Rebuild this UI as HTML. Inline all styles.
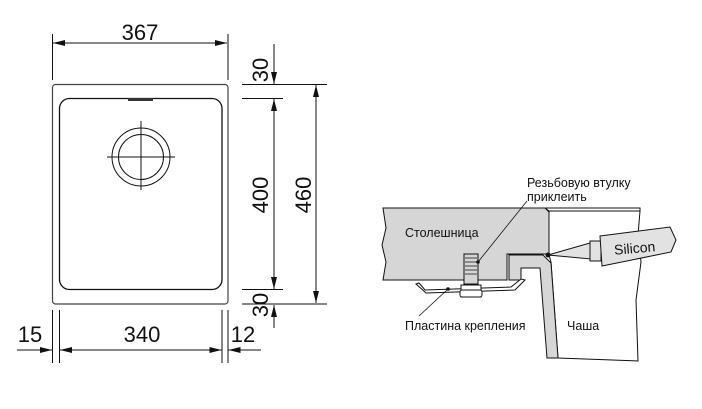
<!DOCTYPE html>
<html><head><meta charset="utf-8"><style>
html,body{margin:0;padding:0;background:#fff;}
svg{display:block;}
text{font-family:"Liberation Sans","DejaVu Sans",sans-serif;fill:#111;}
</style></head><body>
<svg width="702" height="409" viewBox="0 0 702 409" xmlns="http://www.w3.org/2000/svg">
<defs>
<marker id="a" viewBox="0 0 12 6" refX="12" refY="3" markerWidth="12" markerHeight="6" orient="auto" markerUnits="userSpaceOnUse"><path d="M0,0L12,3L0,6z" fill="#111"/></marker>
</defs>
<g stroke="#111" stroke-width="1" fill="none">
<rect x="52.5" y="84.5" width="175.5" height="219.5" rx="3" stroke="#444" stroke-width="1.2"/>
<rect x="59.5" y="98.5" width="162.5" height="191" rx="10" stroke-width="1.3"/>
<rect x="128" y="98" width="25" height="3" fill="#333" stroke="none"/>
<circle cx="141" cy="157" r="29"/>
<circle cx="141" cy="157" r="22.5"/>
<line x1="107" y1="157" x2="175" y2="157"/>
<line x1="141" y1="121" x2="141" y2="190"/>
<line x1="52.5" y1="34" x2="52.5" y2="80"/>
<line x1="228" y1="34" x2="228" y2="80"/>
<line x1="140" y1="43" x2="53" y2="43" marker-end="url(#a)"/>
<line x1="140" y1="43" x2="227" y2="43" marker-end="url(#a)"/>
<line x1="242" y1="84.5" x2="327" y2="84.5"/>
<line x1="242" y1="98.5" x2="283" y2="98.5"/>
<line x1="242" y1="289.5" x2="283" y2="289.5"/>
<line x1="242" y1="304" x2="327" y2="304"/>
<line x1="274" y1="44" x2="274" y2="84" marker-end="url(#a)"/>
<line x1="274" y1="194" x2="274" y2="99" marker-end="url(#a)"/>
<line x1="274" y1="194" x2="274" y2="289" marker-end="url(#a)"/>
<line x1="274" y1="328" x2="274" y2="305" marker-end="url(#a)"/>
<line x1="316" y1="194" x2="316" y2="85" marker-end="url(#a)"/>
<line x1="316" y1="194" x2="316" y2="303" marker-end="url(#a)"/>
<line x1="52.5" y1="310" x2="52.5" y2="363"/>
<line x1="59.5" y1="310" x2="59.5" y2="363"/>
<line x1="222" y1="310" x2="222" y2="363"/>
<line x1="228" y1="310" x2="228" y2="363"/>
<line x1="17" y1="350" x2="52" y2="350" marker-end="url(#a)"/>
<line x1="140" y1="350" x2="60" y2="350" marker-end="url(#a)"/>
<line x1="140" y1="350" x2="221.5" y2="350" marker-end="url(#a)"/>
<line x1="261" y1="350" x2="228.5" y2="350" marker-end="url(#a)"/>
</g>
<text x="140" y="40" font-size="22" text-anchor="middle">367</text>
<text x="30" y="342" font-size="22" text-anchor="middle">15</text>
<text x="142" y="342" font-size="22" text-anchor="middle">340</text>
<text x="243" y="342" font-size="22" text-anchor="middle">12</text>
<text transform="translate(268,70) rotate(-90)" font-size="22" text-anchor="middle">30</text>
<text transform="translate(268,195) rotate(-90)" font-size="22" text-anchor="middle">400</text>
<text transform="translate(311,195) rotate(-90)" font-size="22" text-anchor="middle">460</text>
<text transform="translate(268,305) rotate(-90)" font-size="22" text-anchor="middle">30</text>

<g stroke="#111" stroke-width="1">
<path d="M549,211 L640,211 L638,235 L641,262 L636,300 L638,361 L558,358 L551,262 L549,255z" fill="#fff"/>
<path d="M545,208 L640,208 L640,211 L549,211z" fill="#fff"/>
<path d="M383,208 L545,208 L549,212 L549,254 L507,254 L507,280 L383,280 L386,262 L382,245 L386,228z" fill="#d6d6d6"/>
<path d="M509,255 L543,255 L551,263 L558,358 L547,358 L540,268 L521,268 L521,280 L509,280z" fill="#d6d6d6"/>
<path d="M416,284 L426,293 L515,290 L525,280 L521,279 L511,287 L425,290 L419,283z" fill="#fff"/>
<rect x="464" y="254" width="14" height="30" fill="#d6d6d6"/>
<path d="M465,258h12M465,262h12M465,266h12M465,270h12M465,274h12" stroke-width="0.8"/>
<rect x="461" y="285" width="20" height="12" fill="#fff"/>
<rect x="460" y="290" width="22" height="7" rx="2" fill="#fff"/>
<path d="M548,255 L590,243 L591,259z" fill="#e2e2e2"/>
<rect x="590" y="241" width="11" height="20" fill="#e2e2e2"/>
<path d="M600,236 L670,227 L676,240 L671,252 L602,266z" fill="#e2e2e2"/>
<line x1="478" y1="262" x2="527" y2="201" stroke-width="0.8"/>
<line x1="448" y1="289" x2="419" y2="316" stroke-width="0.8"/>
</g>
<circle cx="548" cy="255" r="2.5" fill="#111"/>
<circle cx="478" cy="262" r="1.8" fill="#111"/>
<circle cx="448" cy="289" r="1.8" fill="#111"/>
<text x="527" y="187" font-size="12.5">Резьбовую втулку</text>
<text x="527" y="201" font-size="12.5">приклеить</text>
<text x="405" y="237" font-size="12.5">Столешница</text>
<text x="405" y="330" font-size="12.5">Пластина крепления</text>
<text x="567" y="330" font-size="12.5">Чаша</text>
<text x="614" y="253" font-size="14" transform="rotate(-5 635 248)">Silicon</text>
</svg>
</body></html>
